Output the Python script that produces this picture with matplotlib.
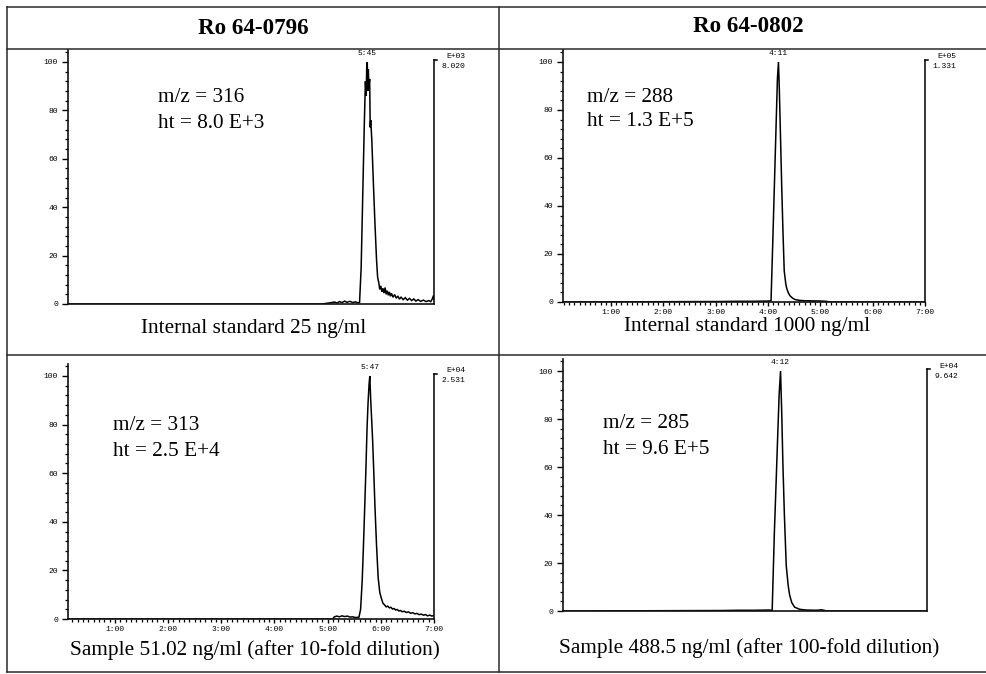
import matplotlib
matplotlib.use("Agg")
import matplotlib.pyplot as plt
from matplotlib.ticker import MultipleLocator, FixedLocator

# ---------------- data ----------------
headers = ["Ro 64-0796", "Ro 64-0802"]
captions = ["Internal standard 25 ng/ml", "Internal standard 1000 ng/ml",
            "Sample 51.02 ng/ml (after 10-fold dilution)",
            "Sample 488.5 ng/ml (after 100-fold dilution)"]
mz_labels = ["m/z = 316", "m/z = 288", "m/z = 313", "m/z = 285"]
ht_labels = ["ht = 8.0 E+3", "ht = 1.3 E+5", "ht = 2.5 E+4", "ht = 9.6 E+5"]
peak_labels = ["5:45", "4:11", "5:47", "4:12"]
scale_exp = ["E+03", "E+05", "E+04", "E+04"]
scale_val = ["8.020", "1.331", "2.531", "9.642"]
time_ticks = [1, 2, 3, 4, 5, 6, 7]
time_ticklabels = ["1:00", "2:00", "3:00", "4:00", "5:00", "6:00", "7:00"]
y_ticks = [0, 20, 40, 60, 80, 100]

# top-left: m/z 316
t_tl = [0.12, 4.9, 5.13, 5.18, 5.22, 5.27, 5.32, 5.36, 5.42, 5.47, 5.52, 5.57, 5.6,
        5.63, 5.66, 5.69, 5.71, 5.725, 5.735, 5.745, 5.755, 5.765, 5.775, 5.79,
        5.80, 5.81, 5.83, 5.86, 5.89, 5.92, 5.94, 5.96, 5.98, 6.00, 6.02, 6.04,
        6.06, 6.08, 6.10, 6.12, 6.14, 6.16, 6.18, 6.20, 6.23, 6.26, 6.29, 6.32,
        6.35, 6.38, 6.42, 6.46, 6.50, 6.54, 6.58, 6.62, 6.66, 6.70, 6.75, 6.80,
        6.85, 6.90, 6.94, 6.97, 6.99, 7.0]
i_tl = [0, 0, 0.8, 0.4, 1.0, 0.6, 1.2, 0.7, 1.1, 0.6, 0.9, 0.5, 0.6,
        15, 45, 75, 92, 86, 98, 100, 88, 97, 90, 93,
        73, 76, 68, 50, 33, 18, 11, 9, 6, 7.5, 5, 6.5,
        4.5, 6.8, 4.0, 5.5, 3.6, 5.0, 3.2, 4.4, 2.8, 3.9, 2.4, 3.3,
        2.0, 2.9, 1.8, 2.6, 1.6, 2.3, 1.4, 2.1, 1.2, 1.8, 1.1, 1.6,
        1.0, 1.4, 1.0, 2.2, 3.5, 2.0]

# top-right: m/z 288
t_tr = [0.09, 3.1, 3.4, 3.7, 4.0, 4.058, 4.09, 4.12, 4.15, 4.18, 4.20, 4.216,
        4.24, 4.26, 4.285, 4.31, 4.34, 4.36, 4.39, 4.42, 4.47, 4.52, 4.6, 4.7,
        4.8, 5.0, 5.1, 5.2, 7.0]
i_tr = [0, 0.2, 0.3, 0.3, 0.4, 0.5, 24, 47, 70, 93, 100, 89,
        68, 50, 30, 13, 7.5, 5.5, 3.8, 2.6, 1.6, 1.0, 0.7, 0.5,
        0.5, 0.4, 0.3, 0, 0]

# bottom-left: m/z 313
t_bl = [0.12, 5.1, 5.12, 5.17, 5.22, 5.27, 5.32, 5.37, 5.42, 5.47, 5.52, 5.57,
        5.59, 5.62, 5.65, 5.67, 5.70, 5.72, 5.74, 5.76, 5.78, 5.793, 5.81, 5.83,
        5.845, 5.865, 5.89, 5.92, 5.95, 5.98, 6.01, 6.04, 6.07, 6.10, 6.13, 6.16,
        6.19, 6.22, 6.25, 6.28, 6.31, 6.34, 6.37, 6.40, 6.44, 6.48, 6.52, 6.56,
        6.60, 6.64, 6.68, 6.72, 6.76, 6.80, 6.84, 6.88, 6.92, 6.96, 7.0]
i_bl = [0, 0, 0.8, 1.2, 0.9, 1.3, 1.0, 1.2, 0.8, 0.9, 0.6, 0.7,
        0.8, 4, 16, 28, 48, 62, 78, 89, 97, 100, 90, 81,
        74, 62, 46, 30, 17, 11, 8.5, 6.5, 5.8, 5.0, 5.3, 4.6,
        4.8, 4.1, 4.3, 3.7, 3.9, 3.3, 3.5, 3.0, 3.2, 2.7, 2.9, 2.4,
        2.6, 2.1, 2.3, 1.8, 2.0, 1.6, 1.8, 1.3, 1.6, 1.2, 1.5]

# bottom-right: m/z 285
t_br = [0.09, 3.1, 3.4, 3.7, 4.0, 4.058, 4.10, 4.135, 4.166, 4.19, 4.217, 4.24,
        4.262, 4.29, 4.325, 4.36, 4.389, 4.43, 4.484, 4.58, 4.7, 4.9, 5.0,
        5.1, 7.0]
i_br = [0, 0.2, 0.3, 0.3, 0.4, 0.3, 33, 55, 75, 90, 100, 82,
        61, 40, 19, 11, 6.7, 3.5, 1.6, 0.7, 0.4, 0.3, 0.5,
        0, 0]

traces = [(t_tl, i_tl), (t_tr, i_tr), (t_bl, i_bl), (t_br, i_br)]

# ---------------- layout ----------------
W, H = 987, 674
fig = plt.figure(figsize=(W / 100, H / 100), dpi=100)
fig.patch.set_facecolor("white")

SERIF = "Liberation Serif"
MONO = "Liberation Mono"

# background axes in pixel coordinates for table lines and texts
bg = fig.add_axes([0, 0, 1, 1])
bg.set_xlim(0, W)
bg.set_ylim(H, 0)
bg.axis("off")
lc = "#2a2a2a"
lw = 1.1
for y in (7, 49, 355, 672):
    bg.plot([7, W], [y, y], color=lc, lw=lw)
for x in (7, 499):
    bg.plot([x, x], [7, 672], color=lc, lw=lw)

bg.text(253, 28, headers[0], ha="center", va="center", fontsize=16.6,
        fontweight="bold", family=SERIF)
bg.text(748, 27, headers[1], ha="center", va="center", fontsize=16.6,
        fontweight="bold", family=SERIF)

cap_pos = [(254, 329), (747, 327), (255, 650), (749, 648)]
ann_pos = [(158, 98, 124), (587, 97, 122), (113, 426, 452), (603, 424, 450)]
for k in range(4):
    bg.text(cap_pos[k][0], cap_pos[k][1], captions[k], ha="center", va="center",
            fontsize=15.3, family=SERIF)
    x, y1, y2 = ann_pos[k]
    bg.text(x, y1, mz_labels[k], ha="left", va="center", fontsize=15.3, family=SERIF)
    bg.text(x, y2, ht_labels[k], ha="left", va="center", fontsize=15.3, family=SERIF)

# axes rectangles in pixels: left, right, y(0), y(100)
rects = [(68, 434, 304, 62), (563, 925, 302, 62), (68, 434, 619, 376), (563, 927, 611, 371)]
xmins = [0.117, 0.083, 0.117, 0.083]
show_time = [False, True, True, False]
YTOP = 105

for k in range(4):
    l, r, y0, y100 = rects[k]
    ytop = y0 - YTOP / 100 * (y0 - y100)
    ax = fig.add_axes([l / W, 1 - y0 / H, (r - l) / W, (y0 - ytop) / H])
    ax.patch.set_alpha(0)
    t, v = traces[k]
    ax.plot(t, v, color="black", lw=1.1, solid_joinstyle="miter")
    xmax = t[-1]
    ax.set_xlim(xmins[k], xmax)
    ax.set_ylim(0, YTOP)
    for s in ("top", "right"):
        ax.spines[s].set_visible(False)
    for s in ("left", "bottom"):
        ax.spines[s].set_linewidth(1.2)
        ax.spines[s].set_color("#111111")
    ax.yaxis.set_major_locator(FixedLocator(y_ticks))
    ax.yaxis.set_minor_locator(MultipleLocator(4))
    ax.tick_params(axis="y", which="major", direction="out", length=4.2, width=1.0,
                   pad=3, labelsize=5.8)
    ax.tick_params(axis="y", which="minor", direction="out", length=2.2, width=0.9)
    for lab in ax.get_yticklabels():
        lab.set_family(MONO)
    if show_time[k]:
        ax.xaxis.set_major_locator(FixedLocator(time_ticks))
        ax.set_xticklabels(time_ticklabels)
        ax.xaxis.set_minor_locator(MultipleLocator(0.1))
        ax.tick_params(axis="x", which="major", direction="out", length=3.2, width=1.0,
                       pad=1.5, labelsize=5.8)
        ax.tick_params(axis="x", which="minor", direction="out", length=2.0, width=0.9)
        for lab in ax.get_xticklabels():
            lab.set_family(MONO)
    else:
        ax.set_xticks([])

    # right-hand scale bracket
    ax.plot([xmax, xmax], [0, 101], color="black", lw=1.1, clip_on=False)
    ax.plot([xmax, xmax + 0.05], [101, 101], color="black", lw=1.1, clip_on=False)
    ax.annotate(scale_exp[k], xy=(xmax, 100), xytext=(22.5, 3.6), textcoords="offset points",
                ha="right", va="center", fontsize=5.8, family=MONO, annotation_clip=False)
    ax.annotate(scale_val[k], xy=(xmax, 100), xytext=(22.5, -3.6), textcoords="offset points",
                ha="right", va="center", fontsize=5.8, family=MONO, annotation_clip=False)

    # peak retention-time label
    ip = max(range(len(v)), key=lambda j: v[j])
    ax.annotate(peak_labels[k], xy=(t[ip], 100), xytext=(0, 5.8), textcoords="offset points",
                ha="center", va="center", fontsize=5.8, family=MONO, annotation_clip=False)

fig.savefig("out.png", dpi=100, facecolor="white")
